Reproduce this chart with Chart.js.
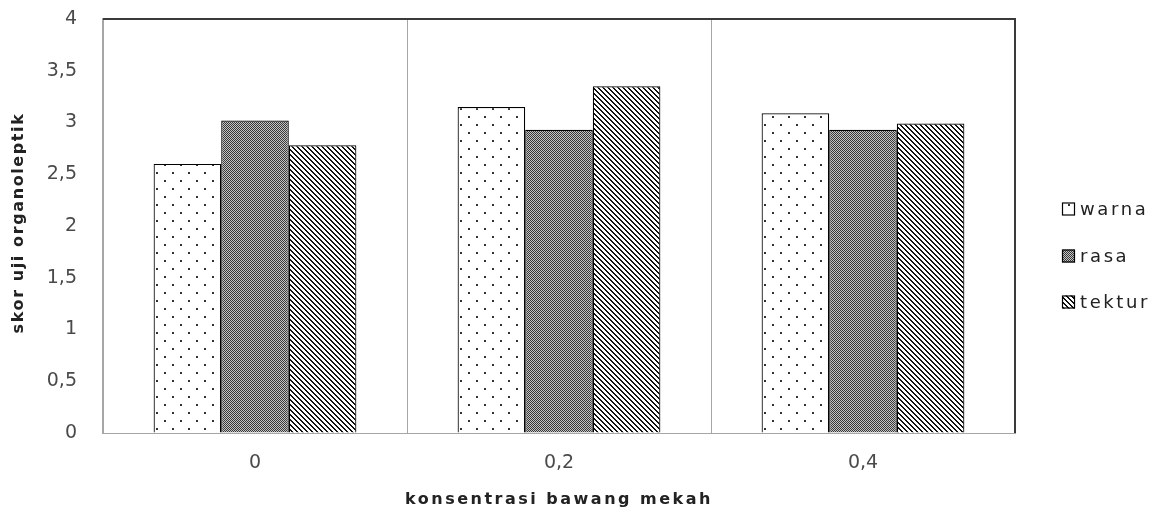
<!DOCTYPE html>
<html lang="id">
<head>
  <meta charset="UTF-8">
  <title>skor uji organoleptik</title>
  <script src="https://cdn.jsdelivr.net/npm/chart.js"></script>
  <style>
    html, body { margin: 0; padding: 0; background: #fff; }
    #wrap { width: 1161px; height: 512px; position: relative; }
  </style>
</head>
<body>
  <div id="wrap"><canvas id="chart"></canvas></div>
  <script>
    // data
    const categories = ["0", "0,2", "0,4"];
    const warna = [2.6, 3.15, 3.09];
    const rasa = [3.02, 2.93, 2.93];
    const tektur = [2.78, 3.35, 2.99];
    const seriesNames = ["warna", "rasa", "tektur"];
    const xTitle = "konsentrasi bawang mekah";
    const yTitle = "skor uji organoleptik";

    const canvas = document.getElementById("chart");
    const ctx = canvas.getContext("2d");

    // small tile canvases -> repeating fill patterns
    const makePattern = (size, drawTile) => {
      const tile = document.createElement("canvas");
      tile.width = size;
      tile.height = size;
      const t = tile.getContext("2d");
      drawTile(t, size);
      return ctx.createPattern(tile, "repeat");
    };

    const dots = makePattern(16, (t) => {
      t.fillStyle = "#fff";
      t.fillRect(0, 0, 16, 16);
      t.fillStyle = "#333";
      t.fillRect(4, 4, 2, 2);
      t.fillRect(12, 12, 2, 2);
    });

    const checker = makePattern(2, (t) => {
      t.fillStyle = "#c4c4c4";
      t.fillRect(0, 0, 2, 2);
      t.fillStyle = "#383838";
      t.fillRect(0, 0, 1, 1);
      t.fillRect(1, 1, 1, 1);
    });

    const stripes = makePattern(5, (t) => {
      t.fillStyle = "#fff";
      t.fillRect(0, 0, 5, 5);
      t.fillStyle = "#111";
      for (let i = 0; i < 5; i++) {
        t.fillRect(i, i, 1, 1);
        t.fillRect((i + 1) % 5, i, 1, 1);
      }
    });

    const fills = [dots, checker, stripes];

    // frame: dark top + right edge like the original plot area
    const frame = {
      id: "frame",
      afterDatasetsDraw(chart) {
        const { left, right, top, bottom } = chart.chartArea;
        const c = chart.ctx;
        c.save();
        c.strokeStyle = "#3a3a3a";
        c.lineWidth = 2;
        c.beginPath();
        c.moveTo(left, top);
        c.lineTo(right, top);
        c.lineTo(right, bottom);
        c.stroke();
        c.restore();
      }
    };

    // axis titles with the wide letter spacing of the original
    const axisTitles = {
      id: "axisTitles",
      afterDraw(chart) {
        const c = chart.ctx;
        const area = chart.chartArea;
        c.save();
        c.fillStyle = "#222";
        c.textAlign = "center";
        c.textBaseline = "middle";
        c.font = "bold 16px 'DejaVu Sans'";
        c.letterSpacing = "2.5px";
        c.fillText(xTitle, (area.left + area.right) / 2, 500);
        c.translate(19, 223);
        c.rotate(-Math.PI / 2);
        c.letterSpacing = "1.6px";
        c.fillText(yTitle, 0, 0);
        c.restore();
      }
    };

    // legend on the right, drawn by hand to get the spacing of the original
    const sideLegend = {
      id: "sideLegend",
      afterDraw(chart) {
        const c = chart.ctx;
        const rows = [209, 256, 302];
        c.save();
        c.font = "18px 'DejaVu Sans'";
        c.letterSpacing = "2.6px";
        c.textBaseline = "middle";
        chart.data.datasets.forEach((ds, i) => {
          const y = rows[i];
          c.fillStyle = ds.backgroundColor;
          c.fillRect(1062, y - 6.5, 13, 13);
          c.strokeStyle = "#000";
          c.lineWidth = 1.2;
          c.strokeRect(1062.5, y - 6, 12, 12);
          c.fillStyle = "#222";
          c.fillText(ds.label, 1080, y + 1);
        });
        c.restore();
      }
    };

    const data = [warna, rasa, tektur];

    new Chart(ctx, {
      type: "bar",
      data: {
        labels: categories,
        datasets: seriesNames.map((name, i) => ({
          label: name,
          data: data[i],
          backgroundColor: fills[i],
          borderColor: "#000",
          borderWidth: 1.2,
          categoryPercentage: 0.667,
          barPercentage: 1.0
        }))
      },
      options: {
        responsive: true,
        maintainAspectRatio: false,
        animation: false,
        layout: { padding: { left: 0, right: 146, top: 0, bottom: 0 } },
        plugins: {
          legend: { display: false },
          tooltip: { enabled: false }
        },
        scales: {
          x: {
            grid: { color: "#a6a6a6", lineWidth: 1, drawTicks: false },
            border: { color: "#a6a6a6", width: 1 },
            ticks: {
              padding: 19,
              color: "#4a4a4a",
              font: { family: "'DejaVu Sans'", size: 19 }
            },
            afterFit(scale) { scale.height = 79; }
          },
          y: {
            min: 0,
            max: 4,
            grid: { color: "transparent", drawTicks: false },
            border: { color: "#a6a6a6", width: 1.5 },
            ticks: {
              stepSize: 0.5,
              padding: 26,
              color: "#4a4a4a",
              font: { family: "'DejaVu Sans'", size: 19 },
              callback: (v) => String(v).replace(".", ",")
            },
            afterFit(scale) {
              scale.width = 103;
              // tick padding would otherwise push the plot top down
              scale.paddingTop = 19;
              scale.paddingBottom = 0;
            }
          }
        }
      },
      plugins: [frame, axisTitles, sideLegend]
    });
  </script>
</body>
</html>
